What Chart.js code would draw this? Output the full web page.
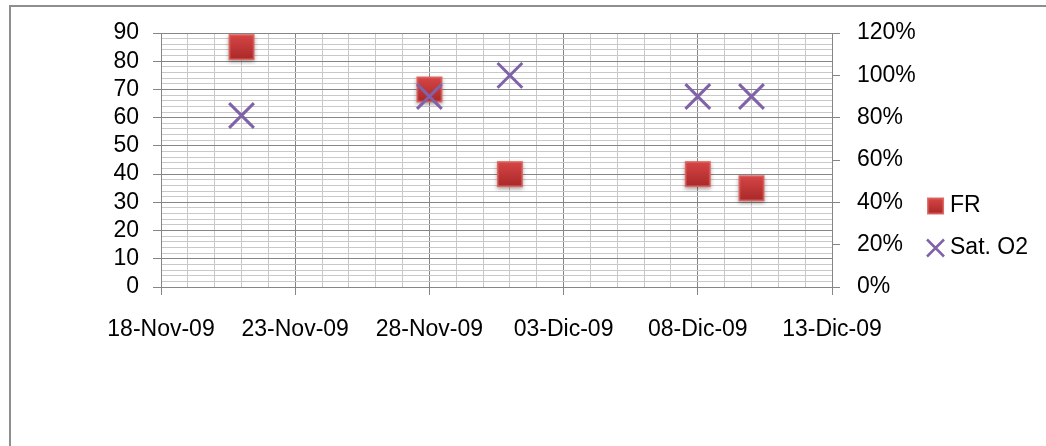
<!DOCTYPE html>
<html>
<head>
<meta charset="utf-8">
<script src="https://cdn.jsdelivr.net/npm/chart.js@4"></script>
<style>
  html, body { margin: 0; padding: 0; background: #fff; overflow: hidden; }
  #wrap { position: relative; width: 1046px; height: 446px; }
  #frame { position: absolute; left: 9px; top: 5px; width: 1100px; height: 500px; border: 2px solid #8e8e8e; }
  #chart { position: absolute; left: 0; top: 0; }
</style>
</head>
<body>
<div id="wrap">
  <div id="frame"></div>
  <canvas id="chart" width="1046" height="446"></canvas>
</div>
<script>
// --- data ---
const dates = ['2009-11-21', '2009-11-28', '2009-12-01', '2009-12-08', '2009-12-10'];
const frValues = [85, 70, 40, 40, 35];
const satValues = [0.81, 0.90, 1.00, 0.90, 0.90];
const xRange = ['2009-11-18', '2009-12-13'];
const leftTicks = [0, 10, 20, 30, 40, 50, 60, 70, 80, 90];
const rightTicks = [0, 0.2, 0.4, 0.6, 0.8, 1.0, 1.2];
const monthNames = ['Ene', 'Feb', 'Mar', 'Abr', 'May', 'Jun', 'Jul', 'Ago', 'Sep', 'Oct', 'Nov', 'Dic'];

const FONT = '"Liberation Sans", Arial, sans-serif';
const FONT_SIZE = 23;
const MAJOR = '#868686';
const MINOR = '#c9c9c9';
const PAD_RIGHT = 8;
const PAD_TOP = 15;   // legend box offset (title fills the rest up to the plot top)

// dates -> day numbers (linear x scale)
const DAY = 86400000;
function parseDay(s) {
  const p = s.split('-').map(Number);
  return Date.UTC(p[0], p[1] - 1, p[2]);
}
const base = parseDay(xRange[0]);
function toDay(s) { return Math.round((parseDay(s) - base) / DAY); }
function fmtDay(v) {
  const d = new Date(base + v * DAY);
  const dd = String(d.getUTCDate()).padStart(2, '0');
  return dd + '-' + monthNames[d.getUTCMonth()] + '-' + String(d.getUTCFullYear()).slice(2);
}

// red square marker with gradient + soft shadow
function makeSquare(side, withShadow) {
  const pad = withShadow ? 5 : 1;
  const c = document.createElement('canvas');
  c.width = side + pad * 2;
  c.height = side + pad * 2;
  const g = c.getContext('2d');
  const x = pad, y = pad;
  if (withShadow) {
    g.save();
    g.shadowColor = 'rgba(0,0,0,0.35)';
    g.shadowBlur = 4;
    g.shadowOffsetY = 2;
    g.fillStyle = '#b83232';
    g.fillRect(x, y, side, side);
    g.restore();
  }
  const grad = g.createLinearGradient(0, y, 0, y + side);
  grad.addColorStop(0, '#d84646');
  grad.addColorStop(1, '#a82828');
  g.fillStyle = grad;
  g.fillRect(x, y, side, side);
  g.strokeStyle = '#df6a66';
  g.lineWidth = 1.5;
  g.strokeRect(x + 0.75, y + 0.75, side - 1.5, side - 1.5);
  return c;
}
const squarePoint = makeSquare(26, true);
const squareLegend = makeSquare(17, false);

const frData = dates.map((d, i) => ({ x: toDay(d), y: frValues[i] }));
const satData = dates.map((d, i) => ({ x: toDay(d), y: satValues[i] }));

const tickFont = { family: FONT, size: FONT_SIZE };

new Chart(document.getElementById('chart'), {
  type: 'scatter',
  data: {
    datasets: [
      {
        label: 'FR',
        data: frData,
        yAxisID: 'y',
        order: 2,
        pointStyle: squarePoint,
        pointRadius: 17,
        pointHoverRadius: 17,
        backgroundColor: '#c0504d',
        borderColor: '#c0504d'
      },
      {
        label: 'Sat. O2',
        data: satData,
        yAxisID: 'y2',
        order: 1,
        pointStyle: 'crossRot',
        pointRadius: 17.5,
        pointHoverRadius: 17.5,
        borderWidth: 3,
        pointBorderWidth: 3,
        borderColor: '#7f62a8',
        backgroundColor: '#7f62a8'
      }
    ]
  },
  options: {
    responsive: false,
    animation: false,
    devicePixelRatio: 1,
    layout: { padding: { left: 0, top: PAD_TOP, right: PAD_RIGHT, bottom: 0 } },
    plugins: {
      tooltip: { enabled: false },
      title: { display: true, text: '', font: { size: 33 - PAD_TOP, lineHeight: 1 }, padding: 0 },
      legend: {
        position: 'right',
        align: 'center',
        labels: {
          usePointStyle: true,
          boxWidth: 6,
          boxHeight: 17,
          padding: 12,
          color: '#000',
          font: { family: FONT, size: FONT_SIZE, lineHeight: 30 / FONT_SIZE },
          generateLabels(chart) {
            const items = Chart.defaults.plugins.legend.labels.generateLabels(chart);
            items.sort((a, b) => a.datasetIndex - b.datasetIndex);
            items.forEach(it => {
              it.text = [it.text];
              if (it.datasetIndex === 0) it.pointStyle = squareLegend;
              else it.lineWidth = 2.5;
            });
            return items;
          }
        }
      }
    },
    scales: {
      x: {
        type: 'linear',
        position: 'bottom',
        min: toDay(xRange[0]),
        max: toDay(xRange[1]),
        afterFit(s) { s.height = 159; },
        ticks: {
          stepSize: 1,
          autoSkip: false,
          maxRotation: 0,
          minRotation: 0,
          padding: 21,
          color: '#000',
          font: tickFont,
          callback: v => (v % 5 === 0 ? fmtDay(v) : '')
        },
        grid: {
          lineWidth: 1,
          tickLength: 8,
          color: c => (c.tick && c.tick.value % 5 === 0 ? MAJOR : MINOR),
          tickColor: c => (c.tick && c.tick.value % 5 === 0 ? MAJOR : 'rgba(0,0,0,0)')
        },
        border: { color: MAJOR, width: 1 }
      },
      y: {
        type: 'linear',
        position: 'left',
        min: leftTicks[0],
        max: leftTicks[leftTicks.length - 1],
        afterFit(s) { s.width = 161; },
        ticks: {
          stepSize: 2,
          autoSkip: false,
          padding: 14,
          color: '#000',
          font: tickFont,
          callback: v => (leftTicks.includes(v) ? String(v) : '')
        },
        grid: {
          lineWidth: 1,
          tickLength: 8,
          color: c => (c.tick && leftTicks.includes(c.tick.value) ? MAJOR : MINOR),
          tickColor: c => (c.tick && leftTicks.includes(c.tick.value) ? MAJOR : 'rgba(0,0,0,0)')
        },
        border: { color: MAJOR, width: 1 }
      },
      y2: {
        type: 'linear',
        position: 'right',
        min: rightTicks[0],
        max: rightTicks[rightTicks.length - 1],
        afterFit(s) {
          const lg = s.chart.legend;
          s.width = 1046 - PAD_RIGHT - (lg ? lg.width : 124) - 832;
        },
        ticks: {
          stepSize: 0.2,
          autoSkip: false,
          padding: 17,
          color: '#000',
          font: tickFont,
          callback: v => Math.round(v * 100) + '%'
        },
        grid: {
          drawOnChartArea: false,
          tickLength: 8,
          color: MAJOR,
          tickColor: MAJOR
        },
        border: { color: MAJOR, width: 1 }
      }
    }
  }
});
</script>
</body>
</html>
